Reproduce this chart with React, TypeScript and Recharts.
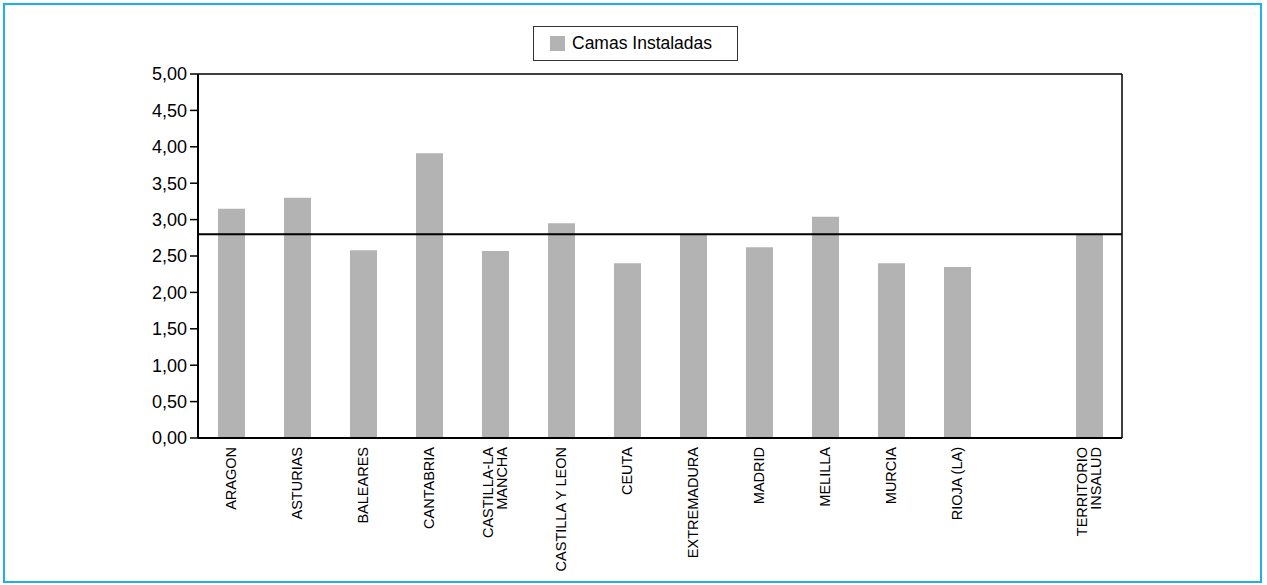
import React from 'react';
import { Bar, BarChart, Legend, ReferenceLine, XAxis, YAxis } from 'recharts';

// Comunidades (hueco vacío antes del total del territorio)
const comunidades = [
  'ARAGON',
  'ASTURIAS',
  'BALEARES',
  'CANTABRIA',
  'CASTILLA-LA\nMANCHA',
  'CASTILLA Y LEON',
  'CEUTA',
  'EXTREMADURA',
  'MADRID',
  'MELILLA',
  'MURCIA',
  'RIOJA (LA)',
  '',
  'TERRITORIO\nINSALUD',
];
const camasInstaladas: Array<number | null> = [
  3.15, 3.3, 2.58, 3.91, 2.57, 2.95, 2.4, 2.79, 2.62, 3.04, 2.4, 2.35, null, 2.79,
];
const mediaInsalud = 2.8;
const yTicks = [0, 0.5, 1, 1.5, 2, 2.5, 3, 3.5, 4, 4.5, 5];

const data = comunidades.map((name, i) => ({ name, camas: camasInstaladas[i] }));

const FONT = '"Liberation Sans", Arial, sans-serif';

function CategoryTick({ x, y, payload }: any) {
  const lines: string[] = String(payload.value ?? '').split('\n').filter(Boolean);
  const n = lines.length;
  return (
    <g transform={`translate(${x},${y})`}>
      <text transform="rotate(-90)" textAnchor="end" fontSize={14.5} fontFamily={FONT} fill="#000">
        {lines.map((line, i) => (
          <tspan key={i} x={-1} y={5 + (i - (n - 1) / 2) * 14}>
            {line}
          </tspan>
        ))}
      </text>
    </g>
  );
}

function LegendBox() {
  return (
    <div
      style={{
        boxSizing: 'border-box',
        width: 205,
        height: 35,
        border: '1.5px solid #333',
        display: 'flex',
        alignItems: 'center',
        paddingLeft: 16,
        fontFamily: FONT,
        fontSize: 17.5,
        color: '#000',
        background: '#fff',
      }}
    >
      <span style={{ display: 'inline-block', width: 15, height: 15, background: '#b3b3b3', marginRight: 7 }} />
      Camas Instaladas
    </div>
  );
}

export default function App() {
  const lastCategory = comunidades[comunidades.length - 1];
  return (
    <div style={{ position: 'fixed', left: 0, top: 0, width: 1267, height: 585, background: '#fff' }}>
      <div
        style={{
          position: 'absolute',
          left: 3,
          top: 3,
          width: 1259,
          height: 580,
          boxSizing: 'border-box',
          border: '2.5px solid #1bb1e9',
        }}
      />
      <div style={{ position: 'absolute', left: 0, top: 0 }}>
        <BarChart
          width={1267}
          height={585}
          data={data}
          margin={{ top: 74, right: 145, bottom: 7, left: 138 }}
          barSize={27}
        >
          <XAxis
            dataKey="name"
            interval={0}
            height={140}
            tickLine={false}
            axisLine={{ stroke: '#000', strokeWidth: 2 }}
            tick={<CategoryTick />}
          />
          <YAxis
            domain={[0, 5]}
            ticks={yTicks}
            width={60}
            tickSize={8}
            tickMargin={3}
            interval={0}
            tickLine={{ stroke: '#000', strokeWidth: 1.5 }}
            axisLine={{ stroke: '#000', strokeWidth: 2 }}
            tick={{ fontSize: 18, fontFamily: FONT, fill: '#000' }}
            tickFormatter={(v: number) => v.toFixed(2).replace('.', ',')}
          />
          <Legend
            layout="horizontal"
            verticalAlign="middle"
            align="center"
            wrapperStyle={{ left: 533, top: 26, width: 205, height: 35 }}
            content={() => <LegendBox />}
          />
          <Bar dataKey="camas" name="Camas Instaladas" fill="#b3b3b3" isAnimationActive={false} />
          {/* marco del área de trazado: borde superior y derecho */}
          <ReferenceLine y={5} stroke="#000" strokeWidth={1.5} />
          <ReferenceLine x={lastCategory} position="end" stroke="#000" strokeWidth={1.5} />
          <ReferenceLine y={mediaInsalud} stroke="#000" strokeWidth={2} />
        </BarChart>
      </div>
    </div>
  );
}
